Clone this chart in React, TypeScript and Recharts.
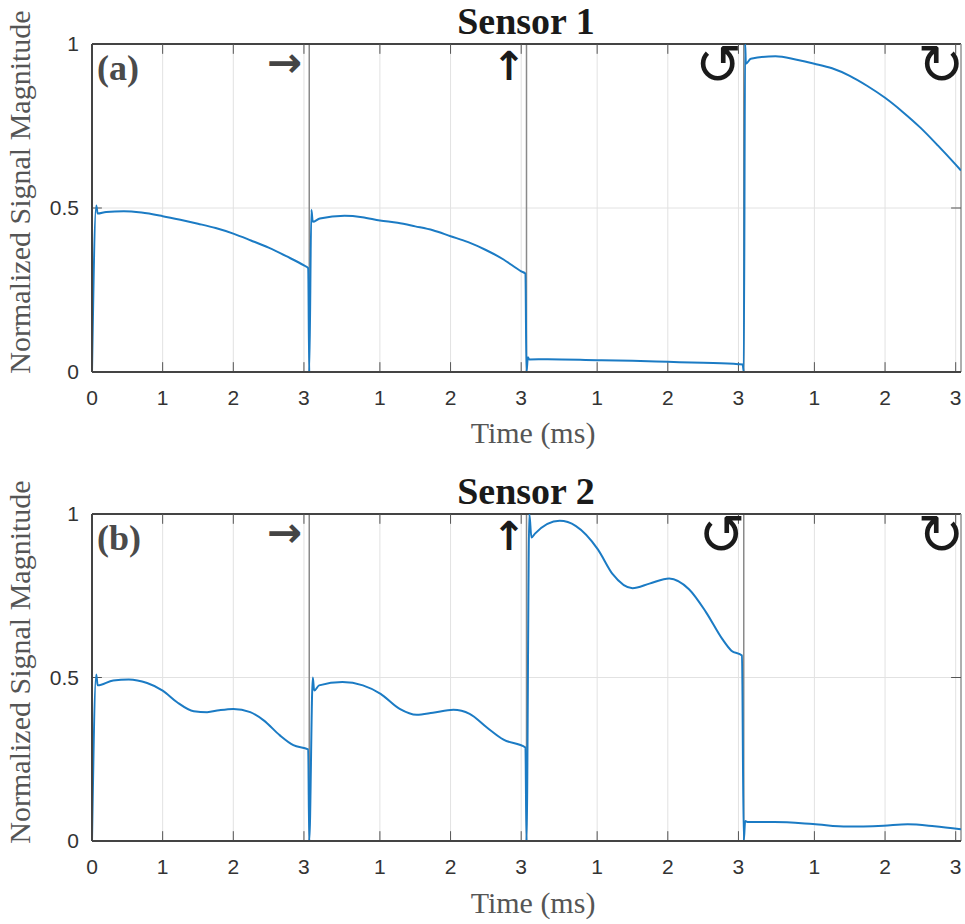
import { LineChart, Line, XAxis, YAxis, CartesianGrid, ReferenceLine } from "recharts";

// each pose segment spans ~3.075 ms on the shared time axis
const SEG_MS = 3.075;
const LOCAL_TICKS = [1, 2, 3];
const Y_TICKS = [0, 0.5, 1];
const BLUE = "#1b7bc4";

// Sensor 1, segments → ↑ ↺ ↻ (local time in ms, normalized magnitude)
const a1T = [0, 0.06, 0.08, 0.2, 0.45, 0.7, 1.0, 1.25, 1.5, 1.75, 2.0, 2.25, 2.5, 2.75, 3.0, 3.06];
const a1V = [0, 0.508, 0.483, 0.488, 0.49, 0.486, 0.475, 0.464, 0.452, 0.439, 0.422, 0.401, 0.379, 0.353, 0.325, 0.317];
const a2T = [0, 0.03, 0.05, 0.15, 0.5, 0.75, 1.0, 1.25, 1.5, 1.75, 2.0, 2.25, 2.5, 2.75, 3.0, 3.06];
const a2V = [0, 0.495, 0.458, 0.468, 0.476, 0.472, 0.462, 0.455, 0.444, 0.432, 0.414, 0.396, 0.372, 0.343, 0.307, 0.3];
const a3T = [0, 0.02, 0.04, 0.3, 1.0, 1.5, 2.0, 2.5, 3.0, 3.06];
const a3V = [0, 0.045, 0.038, 0.039, 0.036, 0.034, 0.031, 0.028, 0.024, 0.023];
const a4T = [0, 0.02, 0.03, 0.1, 0.45, 0.75, 1.0, 1.25, 1.5, 1.75, 2.0, 2.25, 2.5, 2.75, 3.0, 3.075];
const a4V = [0, 1.0, 0.94, 0.955, 0.963, 0.952, 0.94, 0.926, 0.903, 0.872, 0.836, 0.793, 0.745, 0.69, 0.632, 0.614];

// Sensor 2
const b1T = [0, 0.06, 0.08, 0.3, 0.52, 0.78, 1.0, 1.2, 1.44, 1.63, 1.8, 2.0, 2.24, 2.43, 2.66, 2.85, 3.06];
const b1V = [0, 0.509, 0.476, 0.491, 0.494, 0.483, 0.46, 0.425, 0.397, 0.394, 0.4, 0.404, 0.394, 0.369, 0.323, 0.293, 0.28];
const b2T = [0, 0.05, 0.07, 0.14, 0.47, 0.76, 1.01, 1.28, 1.52, 1.75, 2.04, 2.27, 2.51, 2.75, 3.06];
const b2V = [0, 0.5, 0.46, 0.476, 0.486, 0.476, 0.45, 0.404, 0.386, 0.392, 0.401, 0.389, 0.348, 0.31, 0.286];
const b3T = [0, 0.04, 0.07, 0.12, 0.47, 0.7, 1.01, 1.22, 1.5, 1.74, 2.02, 2.3, 2.54, 2.77, 2.9, 3.05];
const b3V = [0, 1.0, 0.928, 0.94, 0.979, 0.963, 0.892, 0.816, 0.773, 0.787, 0.803, 0.77, 0.7, 0.618, 0.582, 0.567];
const b4T = [0, 0.02, 0.06, 0.43, 0.98, 1.47, 1.98, 2.32, 2.7, 3.075];
const b4V = [0, 0.061, 0.058, 0.058, 0.052, 0.044, 0.047, 0.051, 0.045, 0.036];

const MOTIONS = ["→", "↑", "↺", "↻"];

interface Pt { t: number; v: number }

function buildTrace(segs: [number[], number[]][]): Pt[] {
  const out: Pt[] = [];
  segs.forEach(([ts, vs], k) => {
    ts.forEach((t, i) => out.push({ t: k * SEG_MS + t, v: vs[i] }));
  });
  return out;
}

const traceA = buildTrace([[a1T, a1V], [a2T, a2V], [a3T, a3V], [a4T, a4V]]);
const traceB = buildTrace([[b1T, b1V], [b2T, b2V], [b3T, b3V], [b4T, b4V]]);

const X_MAX = 4 * SEG_MS;
const X_TICKS = [0, ...[0, 1, 2, 3].flatMap((k) => LOCAL_TICKS.map((m) => k * SEG_MS + m))];
const SEPARATORS = [1, 2, 3].map((k) => k * SEG_MS);

function tickLabel(v: number): string {
  if (v === 0) return "0";
  const k = Math.floor((v + 0.01) / SEG_MS);
  return String(Math.round(v - k * SEG_MS));
}

const serif = "'Liberation Serif', 'Times New Roman', serif";
const sans = "'Liberation Sans', Arial, sans-serif";
const glyphFont = "'DejaVu Sans', sans-serif";

function Panel({ data, top, height, mb }: { data: Pt[]; top: number; height: number; mb: number }) {
  return (
    <div style={{ position: "absolute", left: 0, top }}>
      <LineChart width={965} height={height} data={data} margin={{ top: 44, right: 4, left: 0, bottom: mb }}>
        <CartesianGrid stroke="#e2e2e2" strokeWidth={1} />
        <XAxis
          dataKey="t"
          type="number"
          domain={[0, X_MAX]}
          ticks={X_TICKS}
          tickFormatter={tickLabel}
          allowDataOverflow
          tickLine={false}
          tickSize={6}
          tickMargin={12}
          axisLine={{ stroke: "#444", strokeWidth: 2 }}
          tick={{ fontSize: 21, fill: "#333", fontFamily: sans }}
          height={30}
        />
        <YAxis
          type="number"
          domain={[0, 1]}
          ticks={Y_TICKS}
          allowDataOverflow
          tickLine={false}
          tickSize={6}
          tickMargin={7}
          width={92}
          axisLine={{ stroke: "#444", strokeWidth: 2 }}
          tick={{ fontSize: 21, fill: "#333", fontFamily: sans }}
        />
        {SEPARATORS.map((x) => (
          <ReferenceLine key={`sep${x}`} x={x} stroke="#8a8a8a" strokeWidth={1.5} />
        ))}
        <ReferenceLine y={1} stroke="#444" strokeWidth={2} />
        <ReferenceLine x={X_MAX} stroke="#999" strokeWidth={1.5} />
        {X_TICKS.slice(1).map((x) => (
          <ReferenceLine key={`tb${x}`} segment={[{ x, y: 0 }, { x, y: 0.03 }]} stroke="#555" />
        ))}
        {X_TICKS.slice(1).map((x) => (
          <ReferenceLine key={`tt${x}`} segment={[{ x, y: 0.97 }, { x, y: 1 }]} stroke="#555" />
        ))}
        <ReferenceLine segment={[{ x: 0, y: 0.5 }, { x: 0.14, y: 0.5 }]} stroke="#555" />
        <ReferenceLine segment={[{ x: X_MAX - 0.14, y: 0.5 }, { x: X_MAX, y: 0.5 }]} stroke="#555" />
        <Line
          type="monotone"
          dataKey="v"
          stroke={BLUE}
          strokeWidth={2}
          dot={false}
          isAnimationActive={false}
        />
      </LineChart>
    </div>
  );
}

function Labels({ dy, title, tag, rotX }: { dy: number; title: string; tag: string; rotX: number }) {
  return (
    <g transform={`translate(0, ${dy})`}>
      <text x={526} y={34} textAnchor="middle" fontFamily={serif} fontWeight="bold" fontSize={38} fill="#1a1a1a">
        {title}
      </text>
      <text x={97} y={80} fontFamily={serif} fontWeight="bold" fontSize={36} fill="#4a4a4a">
        {tag}
      </text>
      <text
        transform="translate(30, 192) rotate(-90)"
        textAnchor="middle"
        fontFamily={serif}
        fontSize={30}
        fill="#555"
      >
        Normalized Signal Magnitude
      </text>
      <text x={533} y={443} textAnchor="middle" fontFamily={serif} fontSize={30} fill="#555">
        Time (ms)
      </text>
      <text x={284.5} y={77} textAnchor="middle" fontFamily={glyphFont} fontWeight="bold" fontSize={42} fill="#444">
        {MOTIONS[0]}
      </text>
      <text x={509} y={80} textAnchor="middle" fontFamily={glyphFont} fontWeight="bold" fontSize={40} fill="#1a1a1a">
        {MOTIONS[1]}
      </text>
      <text x={rotX} y={84} textAnchor="middle" fontFamily={glyphFont} fontSize={56} fill="#1a1a1a">
        {MOTIONS[2]}
      </text>
      <text x={941} y={84} textAnchor="middle" fontFamily={glyphFont} fontSize={56} fill="#1a1a1a">
        {MOTIONS[3]}
      </text>
    </g>
  );
}

export default function App() {
  return (
    <div style={{ position: "absolute", left: 0, top: 0, width: 965, height: 924, background: "#fff" }}>
      <Panel data={traceA} top={0} height={462} mb={60} />
      <Panel data={traceB} top={470} height={454} mb={53} />
      <svg width={965} height={924} style={{ position: "absolute", left: 0, top: 0, pointerEvents: "none" }}>
        <Labels dy={0} title="Sensor 1" tag="(a)" rotX={718.5} />
        <Labels dy={470} title="Sensor 2" tag="(b)" rotX={722} />
      </svg>
    </div>
  );
}
